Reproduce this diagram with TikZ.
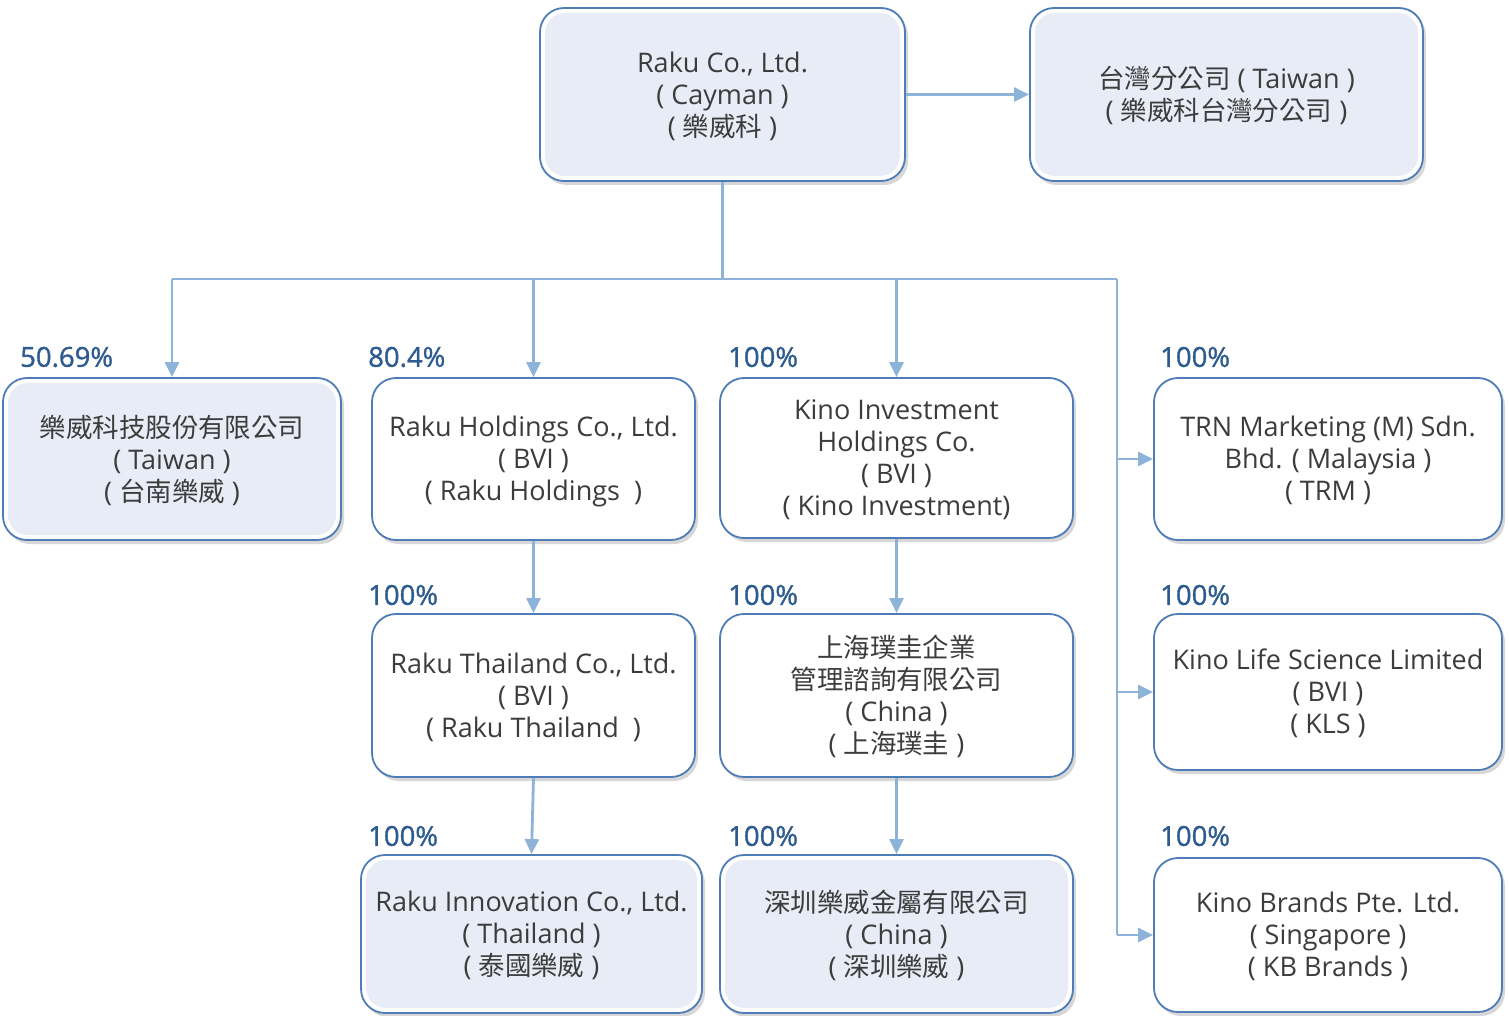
\documentclass[tikz,border=0pt]{standalone}
\usepackage{fontspec}
\setmainfont{Open Sans}
\newfontfamily\cjk{Noto Sans CJK TC}[Scale=0.98]
\newfontfamily\pctfont{Open Sans}[FakeBold=1.2]
\usetikzlibrary{arrows.meta,shadows}
\definecolor{txt}{HTML}{3C3C3C}
\definecolor{bord}{HTML}{4E7CB6}
\definecolor{lav}{HTML}{E8ECF6}
\definecolor{conn}{HTML}{8DB3D8}
\definecolor{pct}{HTML}{2E5C8F}
\tikzset{
  box/.style={draw=bord, line width=1.8pt, rounded corners=24pt, fill=white,
    align=center, text=txt, inner sep=0pt, text depth=1.5pt,
    font=\fontsize{27}{32}\selectfont,
    drop shadow={shadow xshift=3pt, shadow yshift=-4pt, opacity=0.35, fill=black!45}},
  lavbox/.style={box, path picture={\fill[lav, rounded corners=20pt]
      ([shift={(5pt,-5pt)}]path picture bounding box.north west) rectangle
      ([shift={(-5pt,5pt)}]path picture bounding box.south east);}},
  conn/.style={draw=conn, line width=2.8pt},
  arr/.style={conn, -{Triangle[length=15pt,width=14pt]}},
  pctlabel/.style={anchor=west, text=pct, inner sep=0pt, font=\pctfont\fontsize{27.5}{30}\selectfont}
}
\begin{document}
\begin{tikzpicture}[x=1pt, y=-1pt]
\useasboundingbox (0,0) rectangle (1509,1016);
% boxes
\node[lavbox, minimum width=365pt, minimum height=173pt] (top) at (722.5,94.5)
  {Raku Co., Ltd.\\( Cayman )\\( {\cjk 樂威科} )};
\node[lavbox, minimum width=393pt, minimum height=173pt] (tw) at (1226.5,94.5)
  {{\cjk 台灣分公司} ( Taiwan )\\( {\cjk 樂威科台灣分公司} )};
\node[lavbox, minimum width=338pt, minimum height=162pt] (a) at (172,459)
  {{\cjk 樂威科技股份有限公司}\\( Taiwan )\\( {\cjk 台南樂威} )};
\node[box, minimum width=323pt, minimum height=162pt] (b) at (533.5,459)
  {Raku Holdings Co., Ltd.\\( BVI )\\( Raku Holdings\ \ )};
\node[box, minimum width=353pt, minimum height=160pt] (c) at (896.5,458)
  {Kino Investment\\Holdings Co.\\( BVI )\\( Kino Investment)};
\node[box, minimum width=348pt, minimum height=162pt] (d) at (1328,459)
  {TRN Marketing (M) Sdn.\\Bhd. ( Malaysia )\\( TRM )};
\node[box, minimum width=323pt, minimum height=163pt] (b2) at (533.5,695.5)
  {Raku Thailand Co., Ltd.\\( BVI )\\( Raku Thailand\ \ )};
\node[box, minimum width=353pt, minimum height=163pt] (c2) at (896.5,695.5)
  {{\cjk 上海璞圭企業}\\{\cjk 管理諮詢有限公司}\\( China )\\( {\cjk 上海璞圭} )};
\node[box, minimum width=348pt, minimum height=156pt] (d2) at (1328,692)
  {Kino Life Science Limited\\( BVI )\\( KLS )};
\node[lavbox, minimum width=341pt, minimum height=158pt] (b3) at (531.5,934)
  {Raku Innovation Co., Ltd.\\( Thailand )\\( {\cjk 泰國樂威} )};
\node[lavbox, minimum width=353pt, minimum height=158pt] (c3) at (896.5,934)
  {{\cjk 深圳樂威金屬有限公司}\\( China )\\( {\cjk 深圳樂威} )};
\node[box, minimum width=348pt, minimum height=154pt] (d3) at (1328,935)
  {Kino Brands Pte. Ltd.\\( Singapore )\\( KB Brands )};
% percentage labels
\node[pctlabel] (pa) at (20,357) {50.69\%};
\node[pctlabel] (pb) at (368,357) {80.4\%};
\node[pctlabel] (pc) at (728,357) {100\%};
\node[pctlabel] (pd) at (1160,357) {100\%};
\node[pctlabel] (pb2) at (368,595) {100\%};
\node[pctlabel] (pc2) at (728,595) {100\%};
\node[pctlabel] (pd2) at (1160,595) {100\%};
\node[pctlabel] (pb3) at (368,836) {100\%};
\node[pctlabel] (pc3) at (728,836) {100\%};
\node[pctlabel] (pd3) at (1160,836) {100\%};
% junctions
\coordinate (j0) at (722.5,279);
\coordinate (ja) at (172,279);
\coordinate (jb) at (533.5,279);
\coordinate (jc) at (896.5,279);
\coordinate (jr) at (1117,279);
\coordinate (jd) at (1117,459);
\coordinate (jd2) at (1117,692);
\coordinate (jd3) at (1117,935);
% connectors
\draw[arr] (top.east) -- (tw.west);
\draw[conn] (top.south) -- (j0);
\draw[conn] (ja) -- (jr);
\draw[conn] (jr) -- (jd3);
\draw[arr] (ja) -- (a.north);
\draw[arr] (jb) -- (b.north);
\draw[arr] (jc) -- (c.north);
\draw[arr] (jd) -- (d.west);
\draw[arr] (jd2) -- (d2.west);
\draw[arr] (jd3) -- (d3.west);
\draw[arr] (b.south) -- (b2.north);
\draw[arr] (b2.south) -- (b3.north);
\draw[arr] (c.south) -- (c2.north);
\draw[arr] (c2.south) -- (c3.north);
\end{tikzpicture}
\end{document}
